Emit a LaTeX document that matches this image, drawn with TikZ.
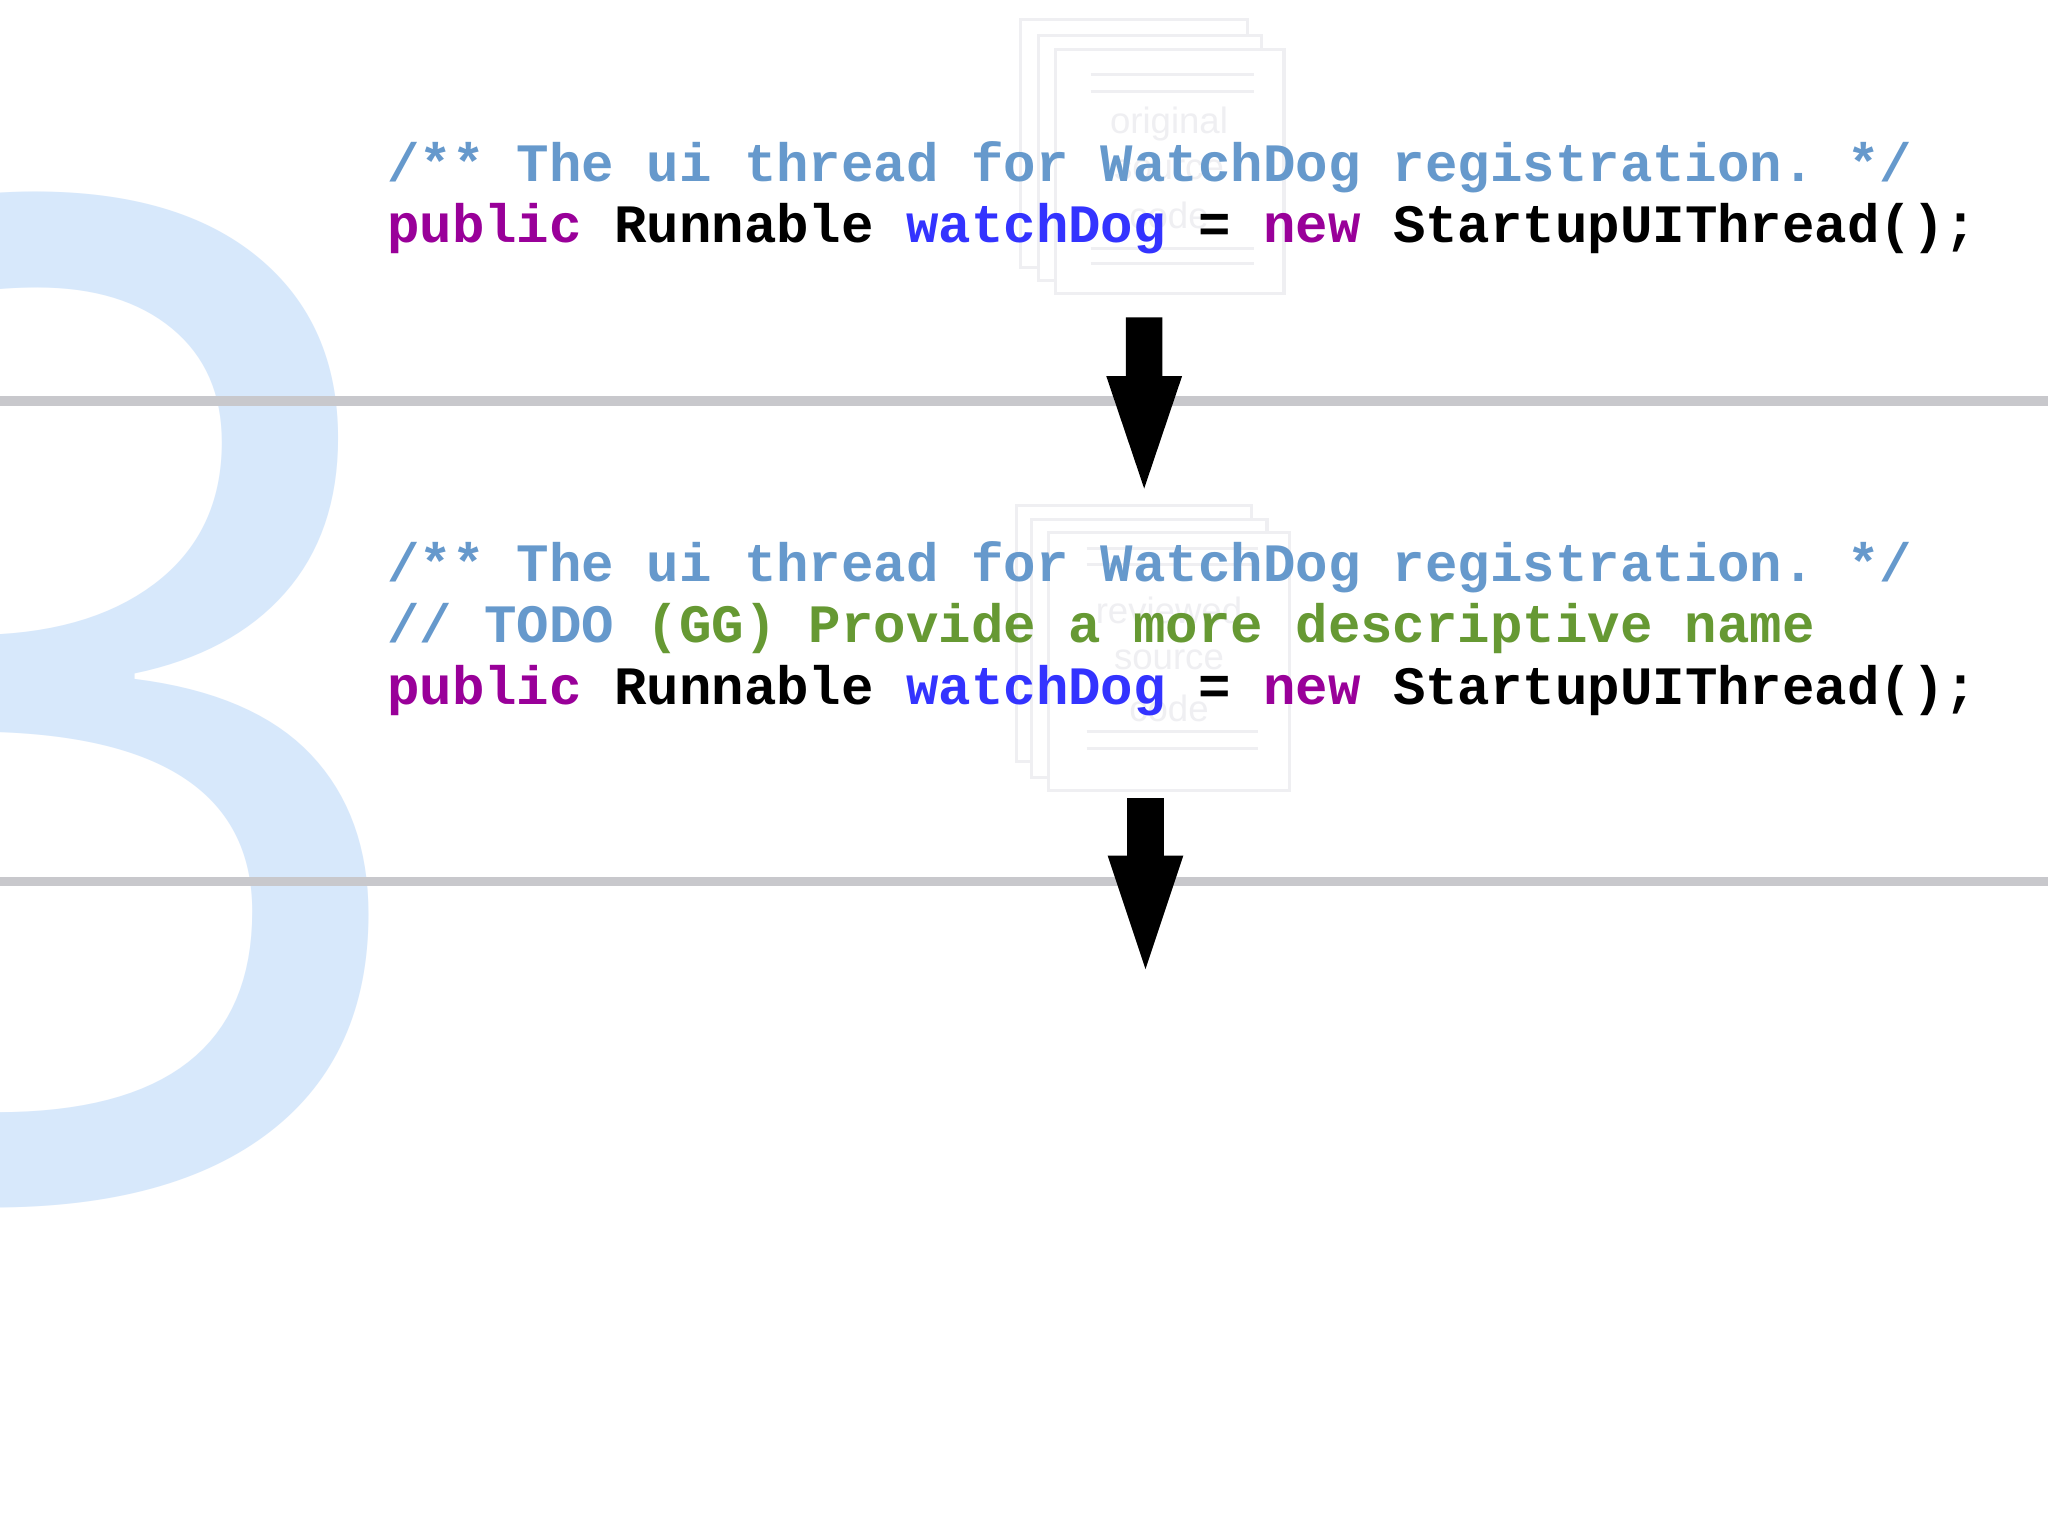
\documentclass[tikz,border=0pt]{standalone}
\usepackage{fontspec}
\setmonofont{Liberation Mono}
\newfontfamily\docfont{Liberation Sans}
\newfontfamily\bigfont{Open Sans}
\definecolor{cmt}{HTML}{6699CC}
\definecolor{kw}{HTML}{990099}
\definecolor{fld}{HTML}{3333FF}
\definecolor{todo}{HTML}{669933}
\definecolor{faint}{HTML}{EFEFF2}
\definecolor{three}{HTML}{D7E8FB}
\definecolor{bar}{HTML}{C8C8CC}
\begin{document}
\begin{tikzpicture}[x=0.5pt,y=-0.5pt,
  code/.style={anchor=base west,inner sep=0,font=\ttfamily\bfseries\fontsize{20.7pt}{24pt}\selectfont},
  page/.style={draw=faint,line width=1.2pt,fill=white},
  pline/.style={draw=faint,line width=1.2pt},
  doctext/.style={text=faint,font=\docfont\fontsize{14pt}{17pt}\selectfont,inner sep=0},
  barline/.style={draw=bar,line width=3.5pt},
  bigarrow/.style={fill=black}]
\useasboundingbox[fill=white] (0,0) rectangle (1568,1175);
% big 3
\node[anchor=south east,inner sep=0,text=three,font=\bigfont\fontsize{530pt}{530pt}\selectfont] (three) at (345,925) {3};
% bars
\draw[barline] (0,307) -- (1568,307);
\draw[barline] (0,675) -- (1568,675);
% doc 1
\draw[page] (781,15) rectangle (955,205);
\draw[page] (795,27) rectangle (966,215);
\draw[page] (808,38) rectangle (983,225);
\foreach \y in {57,70,190,202} \draw[pline] (835,\y) -- (960,\y);
\node[doctext] (d1a) at (895,95) {original};
\node[doctext] (d1b) at (895,130) {source};
\node[doctext] (d1c) at (895,165) {code};
% doc 2
\draw[page] (778,387) rectangle (958,583);
\draw[page] (790,398) rectangle (970,595);
\draw[page] (803,408) rectangle (987,605);
\foreach \y in {420,432,560,573} \draw[pline] (832,\y) -- (963,\y);
\node[doctext] (d2a) at (895,467) {reviewed};
\node[doctext] (d2b) at (895,505) {source};
\node[doctext] (d2c) at (895,542) {code};
% code 1
\node[code,text=cmt] (c1) at (296,139) {/** The ui thread for WatchDog registration. */};
\node[code] (c2) at (296,186) {\textcolor{kw}{public} Runnable \textcolor{fld}{watchDog} = \textcolor{kw}{new} StartupUIThread();};
% code 2
\node[code,text=cmt] (c3) at (296,445) {/** The ui thread for WatchDog registration. */};
\node[code] (c4) at (296,492) {\textcolor{cmt}{// TODO} \textcolor{todo}{(GG) Provide a more descriptive name}};
\node[code] (c5) at (296,539) {\textcolor{kw}{public} Runnable \textcolor{fld}{watchDog} = \textcolor{kw}{new} StartupUIThread();};
% arrows
\fill[bigarrow] (862,243) -- (890,243) -- (890,288) -- (905,288) -- (876,374) -- (847,288) -- (862,288) -- cycle;
\fill[bigarrow] (863,611) -- (891,611) -- (891,655) -- (906,655) -- (877,742) -- (848,655) -- (863,655) -- cycle;
\end{tikzpicture}
\end{document}
